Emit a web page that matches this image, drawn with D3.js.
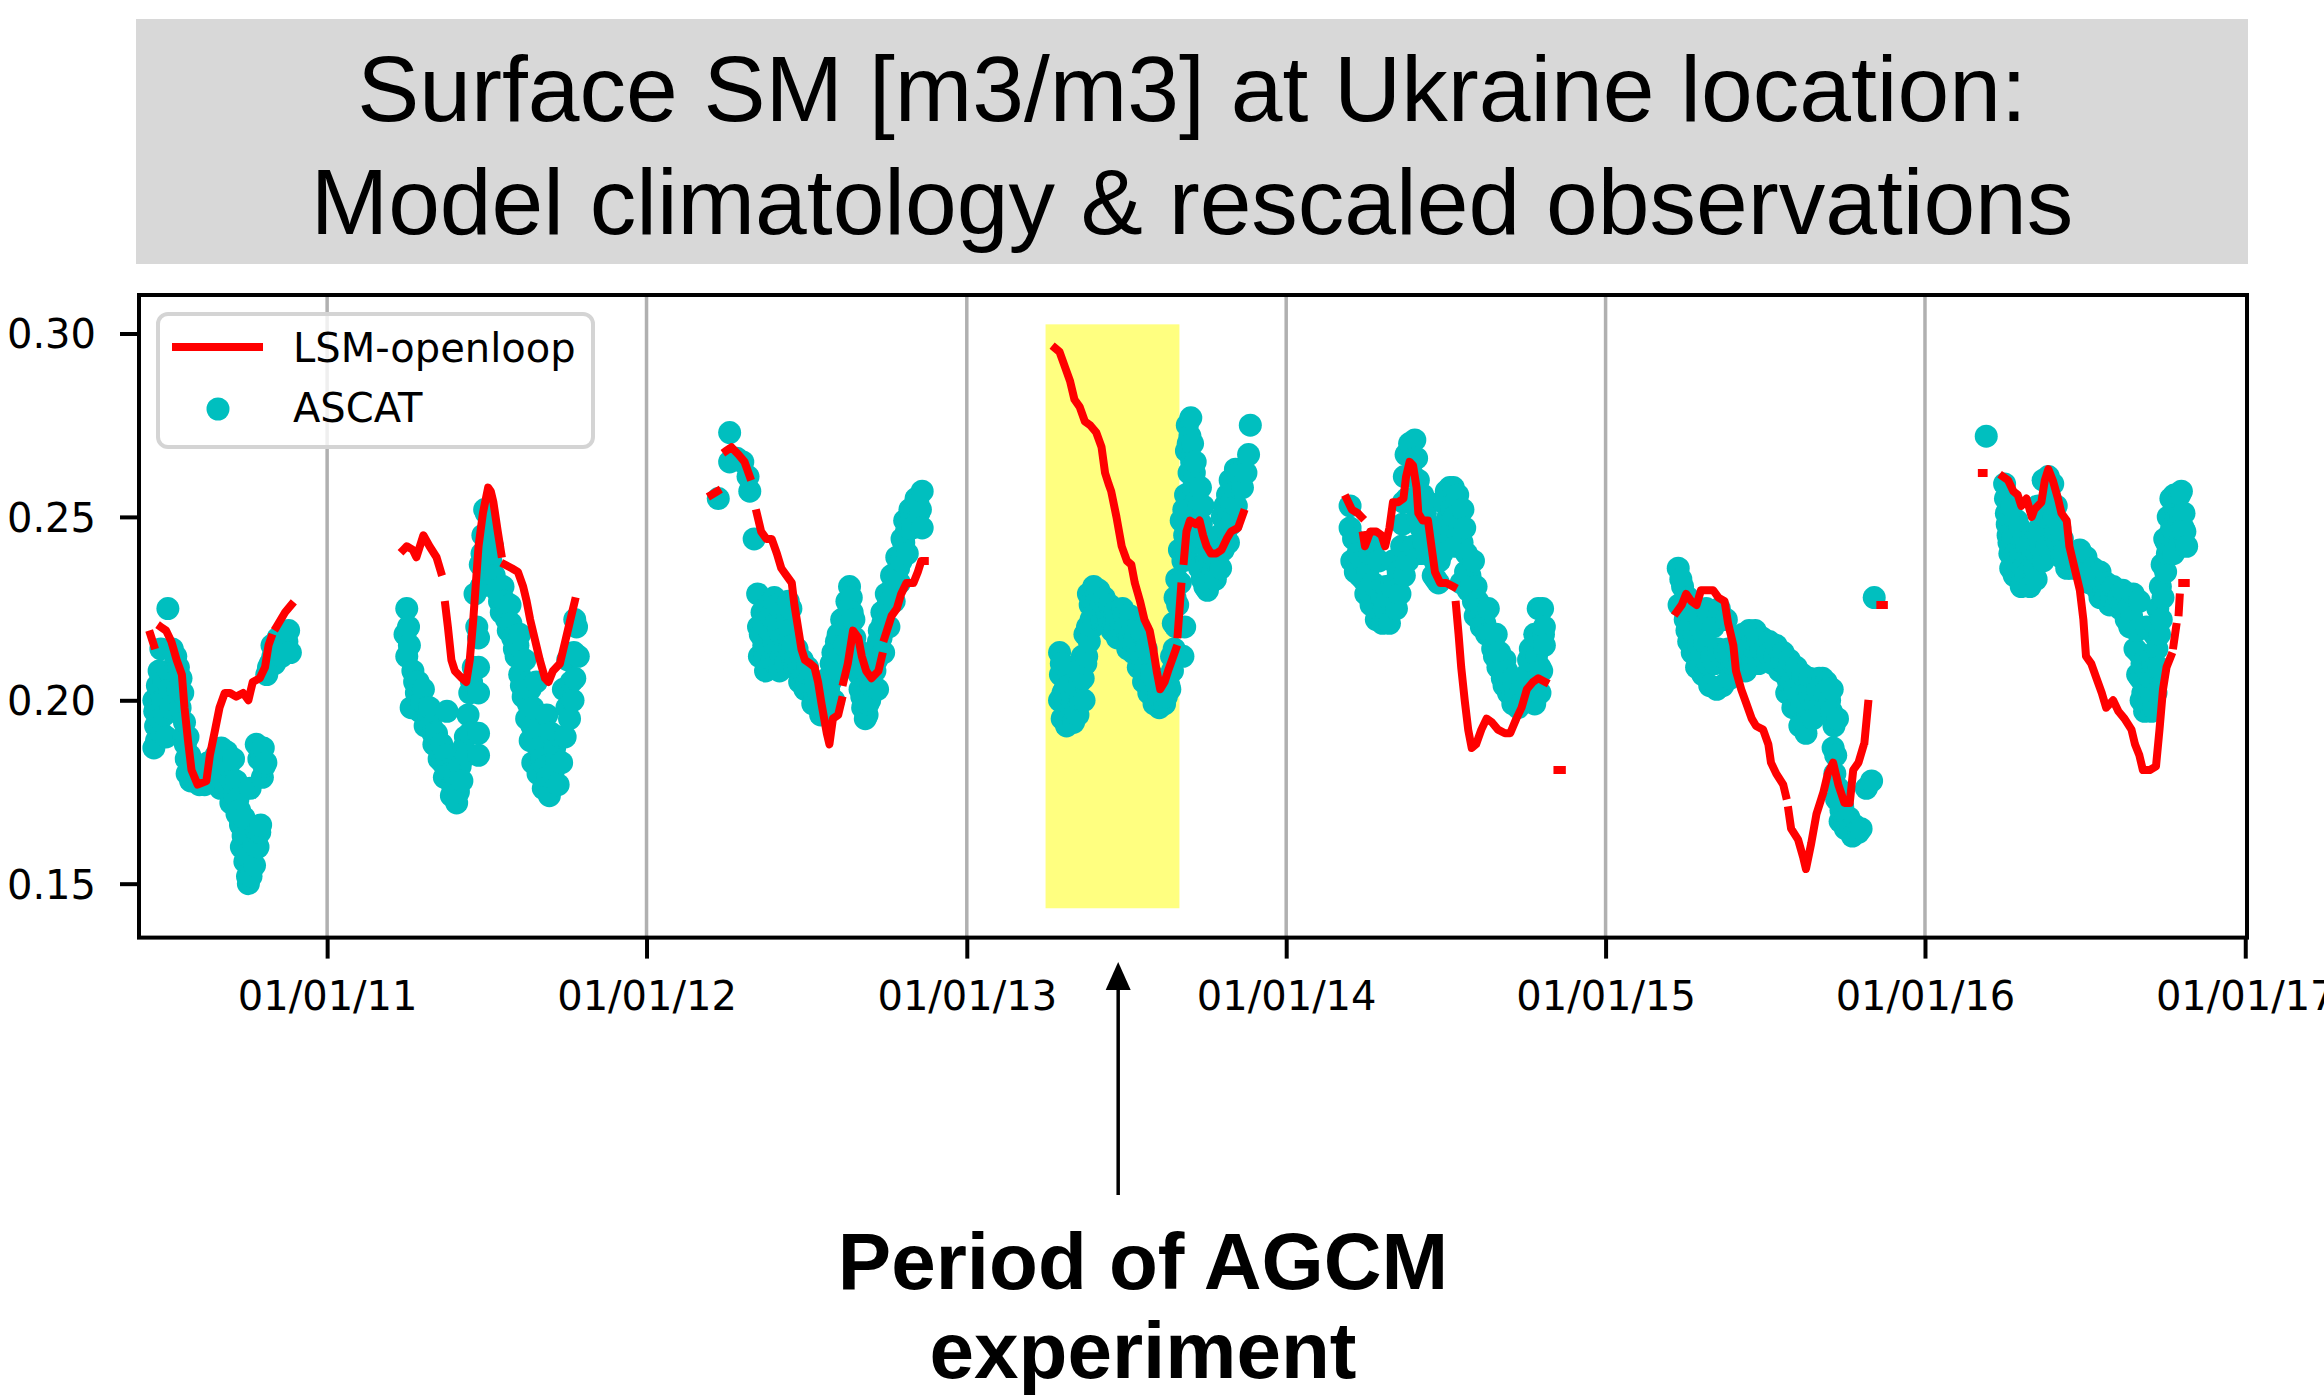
<!DOCTYPE html>
<html>
<head>
<meta charset="utf-8">
<script src="https://cdn.jsdelivr.net/npm/d3@7"></script>
<style>
  html, body { margin: 0; padding: 0; background: #fff; }
  svg { display: block; }
</style>
</head>
<body>
<svg id="chart" width="2324" height="1398"></svg>
<script>
// ---- data: [day of year, soil moisture m3/m3], null = missing day ----
const titleLines = ["Surface SM [m3/m3] at Ukraine location:", "Model climatology & rescaled observations"];
const noteLines = ["Period of AGCM", "experiment"];
const tickYears = [2011, 2012, 2013, 2014, 2015, 2016, 2017];
const yTicks = [0.15, 0.20, 0.25, 0.30];
const experimentSpan = ["2013-04-01", "2013-09-01"];
const experimentRange = [0.1433, 0.3025];
const arrowDate = "2013-06-23";

const lsm2010 = [[164,0.218],[168,0.215],[171,null],[176,0.220],[182,0.219],[188,0.216],[194,0.211],[200,0.207],[203,0.198],[207,0.189],[211,0.181],[218,0.177],[228,0.178],[232,0.185],[238,0.192],[243,0.198],[249,0.202],[255,0.202],[262,0.201],[270,0.202],[276,0.200],[281,0.205],[289,0.206],[295,0.209],[299,0.215],[302,0.217],[305,null],[308,0.220],[318,0.224],[325,0.226]];
const lsm2011 = [[88,0.241],[92,0.242],[99,0.241],[103,0.239],[111,0.245],[118,0.242],[126,0.239],[131,0.235],[133,null],[136,0.226],[139,0.220],[143,0.211],[147,0.208],[155,0.206],[160,0.205],[164,0.211],[168,0.222],[174,0.242],[179,0.251],[185,0.258],[188,0.257],[191,0.254],[196,0.246],[200,0.240],[202,null],[204,0.237],[212,0.236],[219,0.235],[225,0.231],[229,0.227],[233,0.222],[238,0.217],[244,0.211],[250,0.206],[254,0.205],[259,0.208],[267,0.210],[273,0.216],[278,0.221],[284,0.227]];
const lsm2012 = [[75,0.256],[82,0.257],[87,null],[92,0.268],[98,0.269],[106,0.267],[113,0.265],[119,0.261],[123,null],[127,0.251],[132,0.246],[138,0.244],[144,0.244],[150,0.240],[155,0.236],[161,0.234],[167,0.232],[170,0.226],[174,0.220],[178,0.214],[182,0.211],[188,0.210],[193,0.209],[197,0.205],[201,0.199],[207,0.191],[210,0.188],[214,0.195],[220,0.196],[224,0.200],[225,null],[226,0.205],[231,0.210],[237,0.219],[243,0.217],[247,0.212],[252,0.208],[258,0.206],[266,0.208],[270,0.212],[271,null],[273,0.217],[281,0.223],[287,0.225],[292,0.229],[298,0.232],[306,0.232],[311,0.235],[315,0.238],[319,0.238]];
const lsm2013 = [[102,0.296],[107,0.295],[113,0.291],[119,0.287],[124,0.282],[130,0.280],[136,0.276],[142,0.275],[149,0.273],[155,0.269],[159,0.262],[163,0.259],[166,0.257],[172,0.250],[178,0.242],[184,0.238],[189,0.237],[193,0.232],[199,0.227],[204,0.222],[210,0.219],[214,0.214],[218,0.208],[222,0.203],[227,0.205],[231,0.208],[237,0.212],[240,0.214],[241,null],[242,0.218],[246,0.231],[247,null],[249,0.238],[252,0.246],[256,0.249],[263,0.248],[267,0.249],[271,0.245],[275,0.242],[280,0.240],[286,0.240],[292,0.241],[298,0.244],[303,0.246],[311,0.247],[317,0.251]];
const lsm2014 = [[70,0.255],[76,0.252],[83,0.251],[87,0.250],[88,null],[89,0.245],[91,0.242],[97,0.246],[104,0.246],[110,0.245],[114,0.242],[119,0.247],[123,0.254],[129,0.254],[135,0.255],[138,0.261],[142,0.265],[146,0.264],[150,0.258],[152,0.251],[157,0.249],[163,0.249],[167,0.242],[171,0.235],[177,0.232],[184,0.232],[192,0.231],[193,null],[195,0.226],[198,0.218],[201,0.209],[205,0.200],[209,0.192],[213,0.187],[218,0.188],[224,0.192],[230,0.195],[236,0.194],[243,0.192],[251,0.191],[257,0.191],[264,0.195],[270,0.198],[276,0.203],[283,0.205],[289,0.206],[297,0.205],[300,null],[311,0.181],[316,0.181]];
const lsm2015 = [[82,0.224],[88,0.226],[93,0.229],[99,0.227],[105,0.226],[110,0.230],[116,0.230],[124,0.230],[130,0.228],[137,0.227],[141,0.221],[147,0.215],[150,0.208],[156,0.203],[162,0.199],[168,0.195],[173,0.193],[181,0.192],[187,0.188],[190,0.183],[196,0.180],[204,0.177],[207,0.174],[208,null],[210,0.170],[213,0.165],[221,0.162],[227,0.157],[230,0.154],[236,0.161],[242,0.169],[250,0.175],[255,0.180],[261,0.183],[267,0.177],[274,0.172],[280,0.172],[284,0.181],[290,0.183],[295,0.187],[296,null],[297,0.189],[301,0.199],[302,null],[315,0.226],[319,0.226]];
const lsm2016 = [[66,0.262],[68,0.262],[70,null],[90,0.261],[96,0.260],[102,0.257],[107,0.256],[111,0.253],[117,0.255],[123,0.250],[126,0.252],[134,0.254],[138,0.260],[142,0.263],[147,0.260],[153,0.255],[157,0.251],[163,0.249],[166,0.242],[172,0.236],[178,0.230],[182,0.222],[185,0.212],[191,0.210],[197,0.206],[203,0.202],[208,0.198],[216,0.200],[222,0.197],[229,0.195],[237,0.192],[241,0.188],[246,0.185],[250,0.181],[258,0.181],[265,0.182],[269,0.192],[273,0.203],[277,0.209],[282,0.212],[283,null],[285,0.215],[288,0.220],[289,null],[291,0.224],[292,0.228],[293,null],[295,0.232],[299,0.232]];

const ascat2010 = [[168,0.187],[168,0.200],[169,0.197],[170,0.193],[171,0.189],[172,0.204],[173,0.198],[174,0.208],[175,0.195],[176,0.214],[177,0.191],[178,0.200],[179,0.205],[180,0.196],[181,0.201],[182,0.190],[184,0.225],[185,0.208],[186,0.203],[187,0.198],[189,0.214],[191,0.208],[193,0.212],[195,0.203],[196,0.209],[198,0.198],[199,0.206],[201,0.202],[202,0.190],[203,0.194],[204,0.188],[205,0.184],[206,0.180],[207,0.190],[209,0.185],[210,0.178],[212,0.181],[214,0.182],[216,0.178],[218,0.181],[220,0.177],[222,0.182],[224,0.179],[226,0.177],[228,0.181],[230,0.183],[232,0.178],[233,0.180],[235,0.183],[237,0.178],[239,0.185],[241,0.182],[242,0.178],[244,0.176],[245,0.187],[247,0.184],[248,0.181],[250,0.176],[251,0.186],[253,0.182],[254,0.176],[256,0.172],[257,0.178],[259,0.184],[260,0.174],[262,0.178],[263,0.169],[264,0.173],[266,0.170],[267,0.166],[268,0.160],[270,0.163],[271,0.168],[272,0.156],[274,0.158],[275,0.152],[276,0.150],[278,0.176],[279,0.152],[280,0.156],[282,0.161],[283,0.155],[285,0.188],[286,0.164],[287,0.160],[288,0.184],[289,0.164],[290,0.166],[291,0.185],[292,0.179],[293,0.187],[294,0.182],[296,0.183],[297,0.207],[299,0.209],[301,0.210],[303,0.215],[304,0.212],[306,0.210],[308,0.214],[310,0.217],[312,0.216],[314,0.212],[316,0.214],[318,0.218],[320,0.216],[322,0.219],[324,0.213]];
const ascat2011 = [[90,0.218],[92,0.225],[92,0.212],[94,0.220],[95,0.215],[97,0.198],[99,0.208],[101,0.205],[103,0.202],[105,0.205],[107,0.197],[109,0.200],[111,0.203],[113,0.193],[115,0.198],[117,0.195],[118,0.198],[120,0.193],[122,0.191],[123,0.188],[126,0.191],[128,0.187],[129,0.184],[132,0.188],[133,0.183],[135,0.179],[137,0.185],[138,0.197],[139,0.181],[141,0.180],[143,0.174],[144,0.177],[146,0.180],[147,0.176],[149,0.172],[151,0.175],[153,0.182],[155,0.178],[157,0.187],[159,0.190],[160,0.185],[162,0.196],[164,0.191],[164,0.202],[166,0.205],[168,0.209],[170,0.229],[172,0.220],[174,0.217],[174,0.209],[174,0.202],[174,0.191],[174,0.185],[176,0.237],[177,0.231],[178,0.240],[179,0.245],[181,0.252],[183,0.251],[185,0.246],[188,0.238],[190,0.242],[192,0.234],[195,0.230],[198,0.227],[200,0.224],[202,0.231],[204,0.227],[206,0.222],[208,0.219],[210,0.226],[211,0.221],[213,0.217],[215,0.214],[217,0.212],[219,0.215],[221,0.218],[221,0.207],[223,0.204],[225,0.201],[227,0.211],[229,0.195],[231,0.199],[233,0.189],[233,0.203],[235,0.193],[236,0.183],[236,0.198],[238,0.190],[240,0.205],[242,0.180],[244,0.192],[244,0.187],[246,0.184],[248,0.176],[250,0.182],[252,0.196],[253,0.179],[255,0.174],[257,0.191],[259,0.180],[261,0.187],[263,0.184],[265,0.177],[267,0.190],[269,0.183],[271,0.203],[273,0.190],[275,0.198],[276,0.211],[278,0.195],[280,0.205],[282,0.200],[283,0.213],[284,0.206],[284,0.222],[286,0.220],[288,0.212]];
const ascat2012 = [[83,0.255],[96,0.273],[96,0.265],[104,0.266],[111,0.265],[117,0.261],[119,0.257],[124,0.244],[128,0.229],[129,0.220],[130,0.212],[131,0.218],[133,0.224],[134,0.221],[135,0.215],[136,0.212],[137,0.208],[139,0.214],[140,0.226],[142,0.219],[143,0.223],[144,0.211],[146,0.216],[147,0.228],[148,0.210],[149,0.221],[150,0.226],[151,0.214],[152,0.219],[153,0.208],[155,0.212],[156,0.224],[157,0.220],[158,0.217],[159,0.214],[160,0.210],[162,0.222],[163,0.227],[164,0.214],[165,0.219],[166,0.225],[167,0.212],[168,0.215],[170,0.209],[171,0.212],[173,0.214],[175,0.209],[176,0.205],[178,0.206],[179,0.211],[181,0.207],[182,0.203],[184,0.205],[185,0.209],[187,0.206],[188,0.203],[190,0.203],[191,0.199],[193,0.201],[194,0.205],[196,0.203],[197,0.200],[199,0.199],[200,0.196],[202,0.198],[203,0.200],[205,0.201],[206,0.196],[208,0.206],[209,0.203],[211,0.205],[212,0.210],[214,0.213],[215,0.200],[217,0.210],[218,0.216],[220,0.218],[221,0.208],[223,0.213],[224,0.222],[226,0.220],[227,0.215],[229,0.222],[230,0.227],[232,0.226],[233,0.231],[235,0.228],[236,0.224],[238,0.222],[239,0.217],[241,0.214],[242,0.210],[244,0.207],[245,0.203],[247,0.201],[248,0.198],[250,0.199],[251,0.195],[253,0.196],[254,0.199],[256,0.200],[257,0.204],[259,0.204],[260,0.209],[262,0.208],[263,0.214],[264,0.211],[265,0.203],[266,0.216],[267,0.219],[269,0.217],[270,0.224],[271,0.221],[272,0.213],[274,0.220],[275,0.229],[277,0.226],[278,0.220],[280,0.227],[281,0.234],[283,0.231],[284,0.227],[286,0.233],[287,0.239],[289,0.236],[290,0.232],[292,0.238],[293,0.244],[295,0.243],[296,0.249],[298,0.246],[299,0.240],[301,0.247],[302,0.252],[304,0.251],[305,0.247],[307,0.252],[309,0.255],[311,0.254],[312,0.251],[314,0.252],[316,0.257],[316,0.247]];
const ascat2013 = [[107,0.213],[107,0.200],[108,0.207],[109,0.210],[110,0.195],[111,0.202],[113,0.203],[114,0.199],[115,0.193],[117,0.197],[118,0.209],[119,0.204],[120,0.198],[122,0.200],[123,0.194],[125,0.197],[126,0.203],[127,0.208],[128,0.196],[130,0.205],[131,0.200],[133,0.212],[134,0.206],[135,0.200],[136,0.218],[137,0.210],[138,0.212],[139,0.220],[140,0.229],[141,0.216],[142,0.226],[143,0.222],[144,0.227],[145,0.220],[146,0.231],[147,0.224],[149,0.226],[150,0.229],[151,0.222],[152,0.230],[154,0.226],[155,0.222],[157,0.224],[158,0.228],[160,0.225],[161,0.221],[163,0.222],[164,0.226],[166,0.223],[167,0.219],[169,0.221],[170,0.224],[172,0.222],[173,0.217],[175,0.220],[176,0.222],[178,0.219],[179,0.225],[181,0.223],[182,0.220],[184,0.219],[185,0.214],[187,0.217],[188,0.223],[190,0.219],[191,0.213],[193,0.216],[194,0.218],[196,0.214],[197,0.209],[199,0.213],[200,0.219],[202,0.210],[203,0.205],[205,0.209],[206,0.214],[208,0.207],[209,0.202],[211,0.204],[212,0.207],[214,0.203],[215,0.199],[217,0.200],[218,0.204],[220,0.201],[221,0.198],[223,0.200],[224,0.202],[226,0.202],[227,0.199],[229,0.201],[230,0.205],[232,0.204],[233,0.203],[235,0.212],[236,0.208],[237,0.221],[238,0.214],[239,0.228],[240,0.220],[241,0.233],[242,0.226],[244,0.241],[245,0.232],[246,0.249],[248,0.238],[248,0.212],[249,0.252],[250,0.245],[250,0.220],[251,0.256],[252,0.268],[252,0.240],[253,0.275],[254,0.270],[255,0.262],[256,0.252],[256,0.272],[257,0.277],[258,0.243],[258,0.265],[259,0.270],[260,0.258],[261,0.262],[262,0.265],[263,0.250],[264,0.257],[265,0.243],[266,0.253],[267,0.236],[268,0.258],[269,0.248],[270,0.233],[271,0.253],[272,0.244],[273,0.231],[275,0.238],[276,0.230],[278,0.237],[279,0.232],[281,0.238],[282,0.235],[284,0.239],[285,0.233],[287,0.243],[288,0.237],[290,0.245],[291,0.236],[293,0.250],[294,0.241],[296,0.253],[297,0.246],[299,0.256],[300,0.250],[300,0.243],[302,0.260],[303,0.254],[303,0.248],[305,0.255],[306,0.258],[308,0.263],[309,0.253],[311,0.258],[312,0.262],[316,0.258],[320,0.262],[323,0.267],[325,0.275]];
const ascat2014 = [[74,0.253],[74,0.247],[76,0.238],[78,0.244],[80,0.235],[83,0.240],[85,0.234],[88,0.238],[89,0.233],[92,0.229],[94,0.235],[96,0.240],[98,0.226],[100,0.232],[101,0.242],[104,0.222],[106,0.230],[107,0.238],[110,0.228],[111,0.221],[113,0.225],[115,0.231],[117,0.228],[119,0.221],[121,0.231],[123,0.238],[125,0.232],[127,0.225],[129,0.235],[131,0.229],[133,0.242],[134,0.248],[135,0.254],[136,0.234],[136,0.261],[138,0.267],[139,0.255],[140,0.238],[142,0.270],[144,0.262],[146,0.242],[147,0.255],[148,0.271],[150,0.266],[151,0.250],[152,0.260],[154,0.240],[155,0.247],[157,0.256],[158,0.243],[160,0.251],[161,0.240],[163,0.254],[164,0.243],[166,0.247],[168,0.240],[169,0.234],[171,0.238],[172,0.233],[175,0.232],[176,0.238],[178,0.245],[179,0.240],[180,0.254],[182,0.248],[184,0.257],[186,0.250],[188,0.258],[190,0.252],[192,0.258],[193,0.250],[195,0.242],[197,0.256],[199,0.247],[201,0.232],[202,0.243],[203,0.252],[205,0.247],[206,0.235],[207,0.240],[209,0.230],[211,0.234],[213,0.231],[215,0.238],[215,0.227],[217,0.223],[218,0.231],[220,0.227],[222,0.222],[224,0.220],[226,0.225],[228,0.221],[230,0.218],[232,0.225],[234,0.218],[237,0.214],[239,0.212],[241,0.218],[243,0.209],[245,0.213],[248,0.206],[250,0.204],[251,0.211],[253,0.208],[255,0.202],[257,0.204],[260,0.206],[260,0.199],[263,0.202],[266,0.198],[269,0.203],[272,0.200],[274,0.203],[276,0.207],[278,0.211],[280,0.214],[283,0.205],[285,0.199],[285,0.218],[287,0.212],[289,0.225],[291,0.209],[291,0.202],[293,0.208],[294,0.225],[295,0.218],[296,0.220],[296,0.215]];
const ascat2015 = [[84,0.236],[85,0.226],[87,0.233],[89,0.231],[91,0.226],[92,0.222],[94,0.219],[95,0.228],[96,0.216],[98,0.220],[100,0.213],[102,0.218],[103,0.224],[105,0.209],[107,0.215],[109,0.220],[110,0.212],[112,0.207],[114,0.216],[116,0.225],[118,0.210],[120,0.204],[122,0.212],[124,0.220],[126,0.210],[128,0.203],[130,0.214],[131,0.225],[133,0.212],[135,0.204],[137,0.213],[139,0.222],[141,0.214],[143,0.206],[145,0.210],[147,0.211],[150,0.215],[152,0.213],[154,0.211],[156,0.214],[158,0.218],[161,0.208],[163,0.214],[165,0.219],[167,0.215],[169,0.210],[171,0.214],[172,0.219],[174,0.215],[176,0.210],[178,0.214],[180,0.217],[182,0.214],[184,0.211],[186,0.213],[188,0.216],[190,0.213],[192,0.210],[194,0.212],[196,0.215],[198,0.211],[200,0.208],[202,0.211],[204,0.213],[206,0.207],[208,0.202],[210,0.205],[211,0.211],[213,0.205],[215,0.198],[217,0.203],[219,0.209],[221,0.201],[223,0.193],[225,0.199],[226,0.207],[228,0.199],[230,0.191],[232,0.198],[234,0.206],[236,0.200],[238,0.195],[240,0.204],[241,0.200],[243,0.203],[245,0.206],[247,0.201],[249,0.206],[251,0.202],[253,0.205],[255,0.203],[257,0.200],[259,0.197],[260,0.203],[261,0.187],[262,0.193],[263,0.180],[264,0.185],[265,0.173],[266,0.195],[267,0.176],[269,0.167],[270,0.170],[272,0.171],[274,0.167],[275,0.165],[277,0.166],[279,0.168],[281,0.165],[283,0.163],[285,0.166],[287,0.164],[290,0.164],[293,0.165],[299,0.176],[305,0.178],[308,0.228]];
const ascat2016 = [[71,0.272],[92,0.259],[93,0.255],[94,0.251],[95,0.248],[96,0.245],[97,0.243],[98,0.240],[99,0.236],[100,0.253],[101,0.244],[103,0.234],[104,0.240],[106,0.249],[107,0.236],[109,0.247],[110,0.240],[111,0.231],[113,0.236],[114,0.243],[116,0.234],[117,0.242],[119,0.238],[121,0.231],[122,0.236],[124,0.240],[126,0.236],[128,0.233],[129,0.240],[130,0.253],[131,0.244],[132,0.247],[134,0.241],[136,0.238],[136,0.260],[138,0.250],[140,0.242],[141,0.252],[142,0.261],[144,0.255],[147,0.259],[148,0.250],[150,0.245],[151,0.253],[153,0.243],[155,0.247],[157,0.239],[158,0.244],[160,0.240],[162,0.241],[163,0.236],[166,0.238],[168,0.236],[170,0.238],[172,0.240],[174,0.236],[176,0.239],[178,0.241],[181,0.238],[183,0.236],[185,0.239],[187,0.235],[189,0.232],[191,0.234],[193,0.236],[195,0.232],[197,0.233],[199,0.230],[201,0.235],[201,0.228],[203,0.231],[205,0.230],[207,0.228],[208,0.232],[210,0.229],[212,0.226],[214,0.228],[216,0.231],[218,0.227],[220,0.227],[222,0.228],[224,0.225],[226,0.226],[227,0.230],[229,0.224],[231,0.222],[233,0.225],[235,0.220],[237,0.223],[239,0.229],[241,0.214],[243,0.219],[244,0.207],[245,0.213],[246,0.227],[247,0.206],[248,0.200],[249,0.210],[250,0.202],[251,0.205],[252,0.197],[253,0.203],[254,0.220],[255,0.208],[256,0.199],[257,0.203],[258,0.211],[259,0.206],[260,0.197],[261,0.210],[262,0.198],[263,0.218],[264,0.209],[265,0.202],[266,0.214],[267,0.225],[268,0.209],[269,0.218],[270,0.231],[271,0.222],[272,0.237],[273,0.228],[275,0.244],[276,0.235],[277,0.243],[278,0.240],[279,0.250],[280,0.245],[282,0.255],[283,0.247],[285,0.240],[286,0.256],[287,0.252],[289,0.247],[290,0.250],[292,0.256],[293,0.250],[294,0.257],[296,0.247],[297,0.251],[298,0.246],[300,0.242]];

const lsmYears = [[2010, lsm2010], [2011, lsm2011], [2012, lsm2012], [2013, lsm2013], [2014, lsm2014], [2015, lsm2015], [2016, lsm2016]];
const ascatYears = [[2010, ascat2010], [2011, ascat2011], [2012, ascat2012], [2013, ascat2013], [2014, ascat2014], [2015, ascat2015], [2016, ascat2016]];

// ---- helpers ----
const DAY = 864e5;
const toDate = (yr, doy) => new Date(Date.UTC(yr, 0, 1) + (doy - 1) * DAY);
const lsmSeries = lsmYears.map(([yr, arr]) => arr.map(d => ({date: toDate(yr, d[0]), v: d[1]})));
const ascatPts = ascatYears.flatMap(([yr, arr]) => arr.map(d => ({date: toDate(yr, d[0]), v: d[1]})));

const W = 2324, H = 1398;
const axFont = "'DejaVu Sans', sans-serif";
const helv = "'Liberation Sans', Arial, Helvetica, sans-serif";

const svg = d3.select("#chart");
svg.append("rect").attr("width", W).attr("height", H).attr("fill", "#fff");

// scales
const x = d3.scaleUtc()
  .domain([new Date(Date.UTC(2010, 4, 31)), new Date(Date.UTC(2017, 0, 3))])
  .range([139, 2247]);
const y = d3.scaleLinear()
  .domain([0.1353, 0.3105])
  .range([937.6, 295]);

const [px0, px1] = x.range();
const [py1, py0] = y.range();

// title banner
svg.append("rect")
  .attr("x", 136).attr("y", 19)
  .attr("width", 2112).attr("height", 245)
  .attr("fill", "#d8d8d8");
svg.selectAll(".title").data(titleLines).enter()
  .append("text")
  .attr("class", "title")
  .attr("x", 1192)
  .attr("y", (d, i) => 121 + i * 113)
  .attr("text-anchor", "middle")
  .style("font-family", helv)
  .style("font-size", "93px")
  .attr("fill", "#000")
  .text(d => d);

// experiment period shading
const spanDates = experimentSpan.map(s => new Date(s + "T00:00:00Z"));
svg.append("rect")
  .attr("x", x(spanDates[0]))
  .attr("y", y(experimentRange[1]))
  .attr("width", x(spanDates[1]) - x(spanDates[0]))
  .attr("height", y(experimentRange[0]) - y(experimentRange[1]))
  .attr("fill", "#ffff80");

// vertical grid at year ticks
const tickDates = tickYears.map(yr => new Date(Date.UTC(yr, 0, 1)));
svg.append("g").selectAll("line")
  .data(tickDates.filter(d => x(d) < px1 - 5))
  .enter().append("line")
  .attr("x1", d => x(d)).attr("x2", d => x(d))
  .attr("y1", py0).attr("y2", py1)
  .attr("stroke", "#b0b0b0")
  .attr("stroke-width", 3.5);

// ASCAT dots
svg.append("g").selectAll("circle")
  .data(ascatPts)
  .enter().append("circle")
  .attr("cx", d => x(d.date))
  .attr("cy", d => y(d.v))
  .attr("r", 11.5)
  .attr("fill", "#00bfbf");

// model line
const line = d3.line()
  .defined(d => d.v !== null)
  .x(d => x(d.date))
  .y(d => y(d.v));
svg.append("g").selectAll("path")
  .data(lsmSeries)
  .enter().append("path")
  .attr("d", line)
  .attr("fill", "none")
  .attr("stroke", "#ff0000")
  .attr("stroke-width", 8)
  .attr("stroke-linecap", "square")
  .attr("stroke-linejoin", "round");

// legend
const lg = svg.append("g");
lg.append("rect")
  .attr("x", 158).attr("y", 314)
  .attr("width", 435).attr("height", 133)
  .attr("rx", 10)
  .attr("fill", "rgba(255,255,255,0.8)")
  .attr("stroke", "#d4d4d4")
  .attr("stroke-width", 4);
lg.append("line")
  .attr("x1", 172).attr("x2", 263)
  .attr("y1", 347).attr("y2", 347)
  .attr("stroke", "#ff0000").attr("stroke-width", 8);
lg.append("circle")
  .attr("cx", 218).attr("cy", 409).attr("r", 11.5)
  .attr("fill", "#00bfbf");
lg.selectAll("text").data(["LSM-openloop", "ASCAT"]).enter()
  .append("text")
  .attr("x", 293)
  .attr("y", (d, i) => 362 + i * 60)
  .style("font-family", axFont)
  .style("font-size", "40px")
  .attr("fill", "#000")
  .text(d => d);

// axes frame
svg.append("rect")
  .attr("x", px0).attr("y", py0)
  .attr("width", px1 - px0).attr("height", py1 - py0)
  .attr("fill", "none")
  .attr("stroke", "#000")
  .attr("stroke-width", 4);

const xAxis = svg.append("g")
  .attr("transform", `translate(0,${py1})`)
  .call(d3.axisBottom(x).tickValues(tickDates).tickFormat(d3.utcFormat("%m/%d/%y")).tickSize(21));
xAxis.select(".domain").remove();
xAxis.selectAll(".tick line").attr("stroke", "#000").attr("stroke-width", 4);
xAxis.selectAll(".tick text")
  .attr("y", 72).attr("dy", null)
  .style("font-family", axFont)
  .style("font-size", "40px")
  .attr("fill", "#000");

const yAxis = svg.append("g")
  .attr("transform", `translate(${px0},0)`)
  .call(d3.axisLeft(y).tickValues(yTicks).tickFormat(d3.format(".2f")).tickSize(19));
yAxis.select(".domain").remove();
yAxis.selectAll(".tick line").attr("stroke", "#000").attr("stroke-width", 4);
yAxis.selectAll(".tick text")
  .attr("x", -43).attr("dy", "0.36em")
  .style("font-family", axFont)
  .style("font-size", "40px")
  .attr("fill", "#000");

// arrow + annotation
const ax = x(new Date(arrowDate + "T00:00:00Z"));
svg.append("line")
  .attr("x1", ax).attr("x2", ax)
  .attr("y1", 1195).attr("y2", 985)
  .attr("stroke", "#000").attr("stroke-width", 3.5);
svg.append("path")
  .attr("d", `M${ax},962 L${ax - 12.5},990 L${ax + 12.5},990 Z`)
  .attr("fill", "#000");
svg.selectAll(".note").data(noteLines).enter()
  .append("text")
  .attr("class", "note")
  .attr("x", 1143)
  .attr("y", (d, i) => 1289 + i * 89)
  .attr("text-anchor", "middle")
  .style("font-family", helv)
  .style("font-weight", "bold")
  .style("font-size", "80px")
  .attr("fill", "#000")
  .text(d => d);
</script>
</body>
</html>
